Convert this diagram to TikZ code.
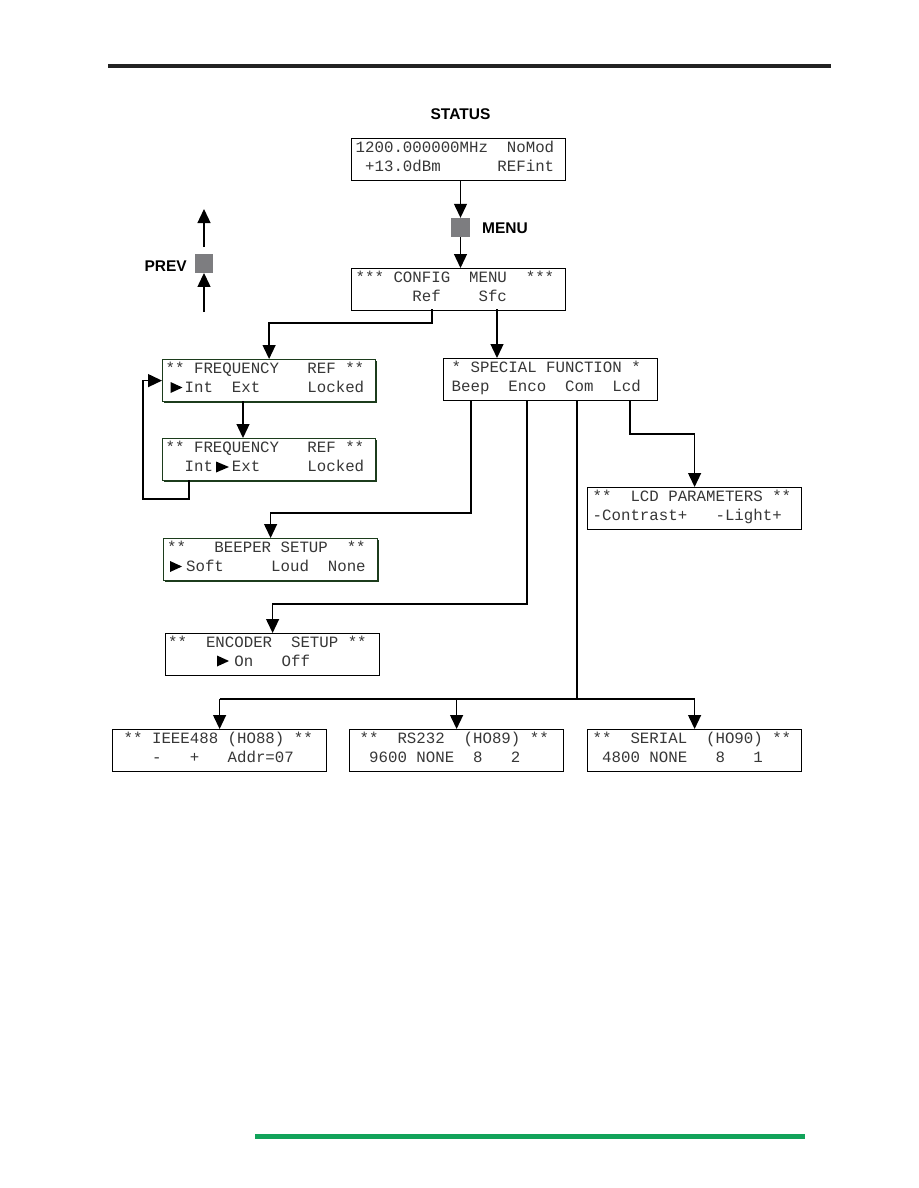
\documentclass[tikz,border=0pt]{standalone}
\usepackage{fontspec}
\newfontfamily\lcdfont{Liberation Mono}
\newfontfamily\lblfont{Liberation Sans}
\usetikzlibrary{arrows.meta,shadows}
\definecolor{ruleblack}{RGB}{34,34,34}
\definecolor{rulegreen}{RGB}{18,163,90}
\definecolor{btngray}{RGB}{125,125,128}
\definecolor{boxgreen}{RGB}{28,60,28}
\definecolor{lcdtext}{RGB}{55,55,55}
\begin{document}
\begin{tikzpicture}[x=1pt,y=-1pt,
  lcd/.style={draw=black, line width=1.2pt, fill=white, minimum width=214pt, minimum height=42pt, inner sep=0pt, anchor=north west},
  gbox/.style={lcd, draw=boxgreen, drop shadow={shadow xshift=1.2pt, shadow yshift=-1.2pt, fill=boxgreen, opacity=1}},
  ln/.style={anchor=base west, inner sep=0pt, font=\lcdfont\fontsize{15.75}{16}\selectfont, text=lcdtext},
  lbl/.style={inner sep=0pt, font=\lblfont\bfseries\fontsize{15.5}{16}\selectfont},
  btn/.style={fill=btngray, minimum size=19pt, inner sep=0pt},
  conn/.style={line width=1.3pt},
  arr/.style={conn, -{Triangle[width=13pt,length=14pt]}},
  tri/.style={fill=black}
]
\useasboundingbox[fill=white] (0,0) rectangle (918,1188);

% page rules
\coordinate (rA) at (108,66);
\coordinate (rB) at (831,66);
\draw[ruleblack, line width=4pt] (rA) -- (rB);
\coordinate (gA) at (255,1136);
\coordinate (gB) at (805,1136);
\draw[rulegreen, line width=5pt] (gA) -- (gB);

% labels and buttons
\node[lbl, anchor=base] (statuslbl) at (460.5,120) {STATUS};
\node[btn] (menusq) at (460.5,227.5) {};
\node[lbl, anchor=base west] (menulbl) at (482,233) {MENU};
\node[btn, minimum size=18.5pt] (prevsq) at (204,263.5) {};
\node[lbl, anchor=base east] (prevlbl) at (187,271) {PREV};

% boxes
\node[lcd] (stbox) at (351,138) {};
\node[ln] (st1) at (355.5,152) {1200.000000MHz~~NoMod};
\node[ln] (st2) at (355.5,171) {~+13.0dBm~~~~~~REFint};

\node[lcd] (config) at (351,268) {};
\node[ln] (cf1) at (355.5,282) {***~CONFIG~~MENU~~***};
\node[ln] (cf2) at (355.5,301) {~~~~~~Ref~~~~Sfc};

\node[gbox, minimum width=213pt] (freq1) at (162,359) {};
\node[ln] (f11) at (165.5,373) {**~FREQUENCY~~~REF~**};
\node[ln] (f12t) at (165.5,392) {~~Int~~Ext~~~~~Locked};

\node[gbox, minimum width=213pt] (freq2) at (162,438) {};
\node[ln] (f21) at (165.5,452) {**~FREQUENCY~~~REF~**};
\node[ln] (f22) at (165.5,471) {~~Int~~Ext~~~~~Locked};

\node[lcd] (special) at (443,358) {};
\node[ln] (sp1) at (451.5,372) {*~SPECIAL~FUNCTION~*};
\node[ln] (sp2) at (451.5,391) {Beep~~Enco~~Com~~Lcd};

\node[lcd] (lcdp) at (587,487) {};
\node[ln] (lc1) at (592.5,501) {**~~LCD~PARAMETERS~**};
\node[ln] (lc2) at (592.5,520) {-Contrast+~~~-Light+};

\node[gbox] (beeper) at (163,538) {};
\node[ln] (bp1) at (167,552) {**~~~BEEPER~SETUP~~**};
\node[ln] (bp2) at (167,571) {~~Soft~~~~~Loud~~None};

\node[lcd] (encoder) at (165,633) {};
\node[ln] (en1) at (168,647) {**~~ENCODER~~SETUP~**};
\node[ln] (en2) at (168,666) {~~~~~~~On~~~Off};

\node[lcd] (ieee) at (112,729) {};
\node[ln] (ie1) at (123.5,743) {**~IEEE488~(HO88)~**};
\node[ln] (ie2) at (123.5,762) {~~~-~~~+~~~Addr=07};

\node[lcd] (rs232) at (349,729) {};
\node[ln] (rs1) at (359.5,743) {**~~RS232~~(HO89)~**};
\node[ln] (rs2) at (359.5,762) {~9600~NONE~~8~~~2};

\node[lcd] (serial) at (587,729) {};
\node[ln] (se1) at (592.5,743) {**~~SERIAL~~(HO90)~**};
\node[ln] (se2) at (592.5,762) {~4800~NONE~~~8~~~1};

% selection triangles
\fill[tri] (170.5,382) -- (182.5,387.5) -- (170.5,393) -- cycle;
\fill[tri] (216,461.5) -- (229,467) -- (216,472.5) -- cycle;
\fill[tri] (170,561) -- (182,566.5) -- (170,572) -- cycle;
\fill[tri] (217,655.5) -- (229,661) -- (217,666.5) -- cycle;

% connectors
\draw[arr] (menusq.north |- stbox.south) -- (menusq.north);
\draw[arr] (menusq.south) -- (menusq.south |- config.north);

\coordinate (pvA) at (204,312);
\draw[arr] (pvA) -- (prevsq.south);
\coordinate (pvB) at (204,247);
\coordinate (pvC) at (204,209);
\draw[arr] (pvB) -- (pvC);

\coordinate (cref) at (432,309);
\coordinate (jref) at (432,323);
\draw[arr] (cref) -- (jref) -| (freq1.north);
\coordinate (csfc) at (497,309);
\draw[arr] (csfc) -- (csfc |- special.north);

\coordinate (f1b) at (243,401);
\draw[arr] (f1b) -- (f1b |- freq2.north);
\coordinate (f2b) at (189,480);
\coordinate (lpB) at (143,499);
\draw[arr] (f2b) |- (lpB) |- (freq1.west);

\coordinate (sbeep) at (471,400);
\coordinate (jbeep) at (471,513);
\draw[arr] (sbeep) -- (jbeep) -| (beeper.north);
\coordinate (senc) at (527,400);
\coordinate (jenc) at (527,604);
\draw[arr] (senc) -- (jenc) -| (encoder.north);
\coordinate (slcd) at (630,400);
\coordinate (jlcd) at (630,434);
\draw[arr] (slcd) -- (jlcd) -| (lcdp.north);
\coordinate (scom) at (577,400);
\coordinate (jcom) at (577,699);
\draw[conn] (scom) -- (jcom);
\draw[conn] (ieee.north |- jcom) -- (serial.north |- jcom);
\draw[arr] (ieee.north |- jcom) -- (ieee.north);
\draw[arr] (rs232.north |- jcom) -- (rs232.north);
\draw[arr] (serial.north |- jcom) -- (serial.north);
\end{tikzpicture}
\end{document}
